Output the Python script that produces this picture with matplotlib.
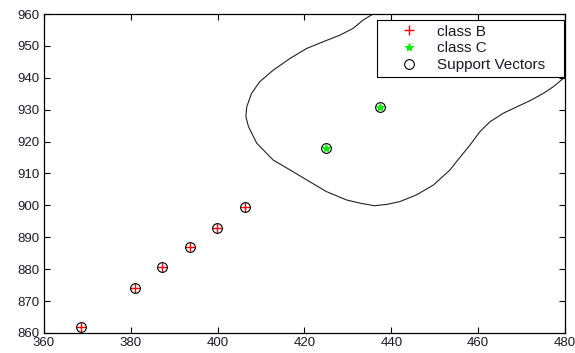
import matplotlib
matplotlib.use("Agg")
import matplotlib.pyplot as plt

plt.rcParams['font.family'] = ['Liberation Sans', 'DejaVu Sans']

# Data
b_x = [368.5, 381.0, 387.2, 393.6, 399.8, 406.4]
b_y = [861.9, 874.2, 880.7, 886.9, 892.9, 899.4]
c_x = [424.9, 437.5]
c_y = [918.1, 930.8]
sv_x = b_x + c_x
sv_y = b_y + c_y

curve_x = [435.8, 433.5, 431.2, 428.2, 424.3, 420.5, 416.7, 412.8, 409.7, 407.8,
           406.7, 406.5, 407.1, 409.0, 412.8, 416.7, 420.5, 425.1, 429.7, 432.8,
           436.1, 438.9, 442.0, 445.8, 449.7, 453.5, 455.0, 458.1, 460.4, 462.7,
           465.8, 468.9, 471.9, 475.0, 477.3, 479.6, 480.0]
curve_y = [960.0, 958.1, 955.5, 953.4, 951.3, 949.2, 946.1, 942.4, 938.8, 935.1,
           930.9, 927.8, 924.7, 919.5, 914.2, 911.1, 908.0, 904.3, 901.7, 900.7,
           899.9, 900.3, 901.2, 903.3, 906.4, 911.1, 913.7, 918.9, 923.1, 926.2,
           928.9, 930.9, 932.8, 935.1, 937.2, 939.8, 940.3]

xticks = [360, 380, 400, 420, 440, 460, 480]
yticks = [860, 870, 880, 890, 900, 910, 920, 930, 940, 950, 960]

fig = plt.figure(figsize=(5.75, 3.53), dpi=100)
ax = fig.add_axes([0.0765, 0.0567, 0.9061, 0.9036])

ax.plot(curve_x, curve_y, color='#222222', lw=0.8, zorder=1)
hb, = ax.plot(b_x, b_y, '+', color='red', ms=7, mew=1.0, ls='none', label='class B', zorder=3)
hc, = ax.plot(c_x, c_y, '*', color='#00ee00', ms=6, mew=0.8, ls='none', label='class C', zorder=3)
hs, = ax.plot(sv_x, sv_y, 'o', mfc='none', mec='black', ms=7, mew=0.8, ls='none',
              label='Support Vectors', zorder=4)

ax.set_xlim(360, 480)
ax.set_ylim(860, 960)
ax.set_xticks(xticks)
ax.set_yticks(yticks)
ax.tick_params(direction='in', top=True, right=True, length=4, width=0.8,
               labelsize=9.5, labelcolor='#1a1a2a', pad=3)
for s in ax.spines.values():
    s.set_linewidth(0.9)

leg = ax.legend(handles=[hb, hc, hs], loc='upper left',
                bbox_to_anchor=(0.639, 0.981, 0.359, 0.0), mode='expand',
                fontsize=11, frameon=True, fancybox=False, edgecolor='black',
                framealpha=1, borderaxespad=0.0, handlelength=3.6, handletextpad=0.05,
                labelspacing=0.18, borderpad=0.3)
leg.get_frame().set_linewidth(0.8)
for t in leg.get_texts():
    t.set_color('#1a1a2a')

fig.savefig('out.png', dpi=100)
